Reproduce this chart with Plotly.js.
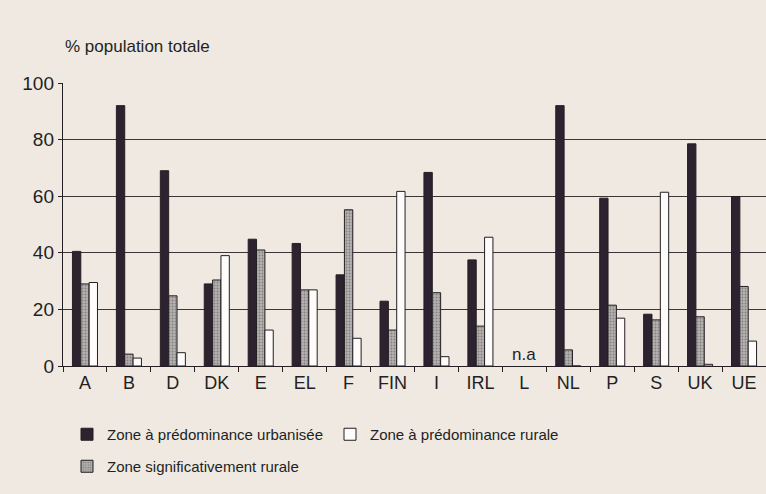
<!DOCTYPE html>
<html>
<head>
<meta charset="utf-8">
<script src="https://cdn.plot.ly/plotly-3.0.1.min.js"></script>
<style>
  html, body { margin: 0; padding: 0; background: #efe9e2; }
  #chart { width: 766px; height: 494px; }
</style>
</head>
<body>
<div id="chart"></div>
<script>
// Categories (EU member states + EU average)
const categories = ["A", "B", "D", "DK", "E", "EL", "F", "FIN", "I", "IRL", "L", "NL", "P", "S", "UK", "UE"];

// % of total population by zone type (L: not available)
const urbanise = [40.5, 92, 69, 29, 44.8, 43.3, 32.2, 22.9, 68.4, 37.5, null, 92, 59.3, 18.3, 78.5, 59.9];
const signifRural = [29, 4.2, 24.8, 30.4, 41, 26.9, 55.2, 12.7, 25.9, 14.1, null, 5.7, 21.5, 16.3, 17.4, 28.1];
const rural = [29.5, 2.8, 4.7, 39, 12.7, 26.9, 9.8, 61.7, 3.3, 45.5, null, 0, 16.9, 61.4, 0.6, 8.8];

const seriesNames = ["Zone à prédominance urbanisée", "Zone significativement rurale", "Zone à prédominance rurale"];
const yTicks = [0, 20, 40, 60, 80, 100];
const naCategory = "L";
const naText = "n.a";

const FONT = '"Liberation Sans", Arial, Helvetica, sans-serif';
const INK = "#231f22";

const traces = [
  {
    type: "bar", name: seriesNames[0], x: categories, y: urbanise,
    marker: { color: "#2d2330", line: { color: INK, width: 1 } },
    legend: "legend", hoverinfo: "x+y"
  },
  {
    type: "bar", name: seriesNames[1], x: categories, y: signifRural,
    marker: {
      color: "#aaa6a6", line: { color: INK, width: 1 },
      pattern: { shape: ".", fgcolor: "#858080", bgcolor: "#b5b1b1", size: 3, solidity: 0.3 }
    },
    legend: "legend2", hoverinfo: "x+y"
  },
  {
    type: "bar", name: seriesNames[2], x: categories, y: rural,
    marker: { color: "#fdfcfa", line: { color: INK, width: 1 } },
    legend: "legend", hoverinfo: "x+y"
  }
];

const layout = {
  width: 766, height: 494,
  paper_bgcolor: "#efe9e2", plot_bgcolor: "rgba(0,0,0,0)",
  margin: { l: 63, r: 0, t: 83, b: 128, pad: 0 },
  font: { family: FONT, size: 17, color: INK },
  barmode: "group", bargap: 0.43, bargroupgap: 0,
  title: {
    text: "% population totale",
    xref: "container", yref: "container",
    x: 65 / 766, xanchor: "left", y: 1 - 46 / 494, yanchor: "middle",
    font: { family: FONT, size: 17, color: INK }
  },
  xaxis: {
    type: "category", categoryorder: "array", categoryarray: categories,
    tickson: "boundaries", ticks: "outside", ticklen: 5, tickwidth: 1, tickcolor: INK,
    showline: true, linecolor: INK, linewidth: 1.2,
    showgrid: false, zeroline: false,
    tickfont: { family: FONT, size: 18, color: INK },
    range: [-0.5, categories.length - 0.5]
  },
  yaxis: {
    range: [0, 100], tickvals: yTicks, ticktext: yTicks.map(String),
    ticks: "outside", ticklen: 4, tickwidth: 1, tickcolor: INK,
    showline: true, linecolor: INK, linewidth: 1.2,
    showgrid: true, gridcolor: "#3a3536", gridwidth: 1.2,
    zeroline: false,
    tickfont: { family: FONT, size: 19, color: INK }
  },
  legend: {
    orientation: "h", xref: "container", yref: "container",
    x: 67 / 766, xanchor: "left", y: 1 - 418 / 494, yanchor: "top",
    entrywidth: 218, entrywidthmode: "pixels",
    bgcolor: "rgba(0,0,0,0)", font: { family: FONT, size: 15, color: INK },
    traceorder: "normal", itemclick: false
  },
  legend2: {
    orientation: "h", xref: "container", yref: "container",
    x: 67 / 766, xanchor: "left", y: 1 - 450 / 494, yanchor: "top",
    bgcolor: "rgba(0,0,0,0)", font: { family: FONT, size: 15, color: INK },
    itemclick: false
  },
  annotations: [
    { xref: "x", yref: "y", x: naCategory, y: 4, text: naText, showarrow: false,
      font: { family: FONT, size: 17, color: INK } }
  ],
  showlegend: true
};

Plotly.newPlot("chart", traces, layout, { displayModeBar: false, staticPlot: true });
</script>
</body>
</html>
